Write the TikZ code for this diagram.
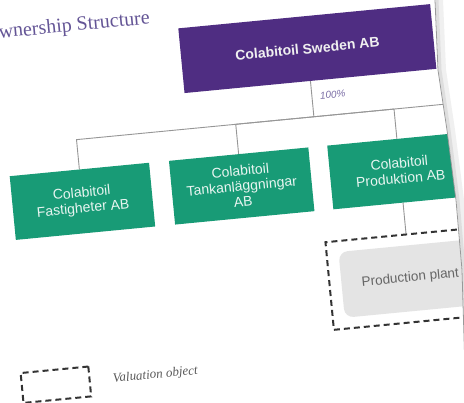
\documentclass[tikz,border=0pt]{standalone}
\usepackage{fontspec}
\setmainfont{Liberation Sans}
\newfontfamily\titlefont{Liberation Serif}
\definecolor{cpurple}{RGB}{79,45,130}
\definecolor{cgreen}{RGB}{24,155,118}
\definecolor{cgraybox}{RGB}{228,228,228}
\definecolor{cline}{RGB}{150,150,150}
\definecolor{ctitle}{RGB}{100,85,150}
\begin{document}
\begin{tikzpicture}[x=1pt,y=-1pt,
  topbox/.style={fill=cpurple,text=white!94!black,font=\fontsize{14}{16}\selectfont\bfseries,minimum width=253pt,minimum height=65pt,inner sep=0pt},
  subbox/.style={fill=cgreen,text=white!90!cgreen,font=\fontsize{14}{15.5}\selectfont,align=center,minimum width=140pt,minimum height=64pt,inner sep=0pt},
  conn/.style={draw=cline,line width=0.9pt},
  valbox/.style={draw=black!80,line width=2pt,dash pattern=on 6pt off 4pt},
  plantbox/.style={fill=cgraybox,rounded corners=9pt,text=black!60,font=\fontsize{13.5}{15}\selectfont,minimum width=138pt,minimum height=66pt,inner sep=0pt}
]
\useasboundingbox (0,0) rectangle (464,403);
\fill[white] (0,0) rectangle (464,403);
\begin{scope}
\clip (0,0) -- (435,0) -- (438,70) -- (447,130) -- (456,200) -- (462,270) -- (466,403) -- (0,403) -- cycle;
\begin{scope}[shift={(232,200)},rotate=5.5,transform shape]
  \node[anchor=east,font=\titlefont\fontsize{20}{22}\selectfont,text=ctitle] (title) at (-61,-188) {Ownership Structure};
  \node[topbox] (top) at (89.5,-143.5) {Colabitoil Sweden AB};
  \node[subbox] (b1) at (-149,-13) {Colabitoil\\Fastigheter AB};
  \node[subbox] (b2) at (11,-13) {Colabitoil\\Tankanläggningar\\AB};
  \node[subbox] (b3) at (170,-13) {Colabitoil\\Produktion AB};
  \node[valbox,minimum width=162pt,minimum height=88pt] (val) at (170,95) {};
  \node[plantbox] (plant) at (170,95) {Production plant};
  \coordinate (j) at (89.5,-75);
  \coordinate (jr) at (330,-75);
  \draw[conn] (top.south) -- (j);
  \draw[conn] (j) -| (b1.north);
  \draw[conn] (j) -| (b2.north);
  \draw[conn] (j) -| (b3.north);
  \draw[conn] (j) -- (jr);
  \draw[conn] (b3.south) -- (val.north);
  \node[anchor=west,font=\fontsize{10}{12}\selectfont\itshape,text=ctitle!85] (pct) at (94,-95) {100\%};
  \node[valbox,minimum width=68pt,minimum height=30pt] (leg) at (-193,167) {};
  \node[anchor=west,font=\titlefont\itshape\fontsize{13}{15}\selectfont,text=black!65] (legtxt) at (-139,167) {Valuation object};
\end{scope}
\end{scope}
\draw[black!6,line width=7pt,xshift=4.5pt] (435,0) -- (438,70) -- (447,130) -- (456,200) -- (462,270) -- (466,403);
\draw[black!13,line width=3pt,xshift=2pt] (435,0) -- (438,70) -- (447,130) -- (456,200) -- (462,270) -- (466,403);
\draw[black!40,line width=0.8pt,line join=round] (435,0) -- (438,70) -- (447,130) -- (456,200) -- (462,270) -- (466,403);
\end{tikzpicture}
\end{document}
